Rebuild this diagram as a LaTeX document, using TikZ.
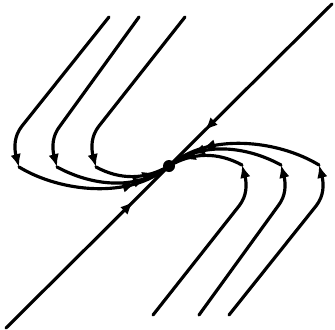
\documentclass[tikz,border=0pt]{standalone}
\usetikzlibrary{arrows.meta,decorations.markings}
\tikzset{
  flow/.style={line width=2.7pt, line cap=round, line join=round},
  tip/.style={-{Latex[length=11pt,width=9pt]}},
  arr/.style={postaction={decorate,decoration={markings,
      mark=at position #1 with {\arrow{Latex[length=11pt,width=9pt]}}}}}
}
\begin{document}
\begin{tikzpicture}[x=0.03cm, y=-0.03cm]
\useasboundingbox (0,0) rectangle (335,329);
\coordinate (O) at (169,166);

\foreach \r in {0,180}{
\begin{scope}[rotate around={\r:(O)}]
\coordinate (Q) at (332,4);
\draw[flow, arr=0.78] (Q) -- (O);

% hooked trajectories
\draw[flow, tip] (109,17) -- (22,126) .. controls (14,136) and (14,148) .. (19,167);
\draw[flow, arr=0.76] (19,167) .. controls (60,192) and (130,200) .. (O);

\draw[flow, tip] (139,17) -- (60,126) .. controls (52,136) and (52,148) .. (57,167);
\draw[flow, arr=0.78] (57,167) .. controls (90,185) and (135,192) .. (O);

\draw[flow, tip] (185,17) -- (99,126) .. controls (91,136) and (91,148) .. (96,167);
\draw[flow, arr=0.80] (96,167) .. controls (120,180) and (145,180) .. (O);
\end{scope}
}

\fill (O) circle[radius=6];
\end{tikzpicture}
\end{document}
